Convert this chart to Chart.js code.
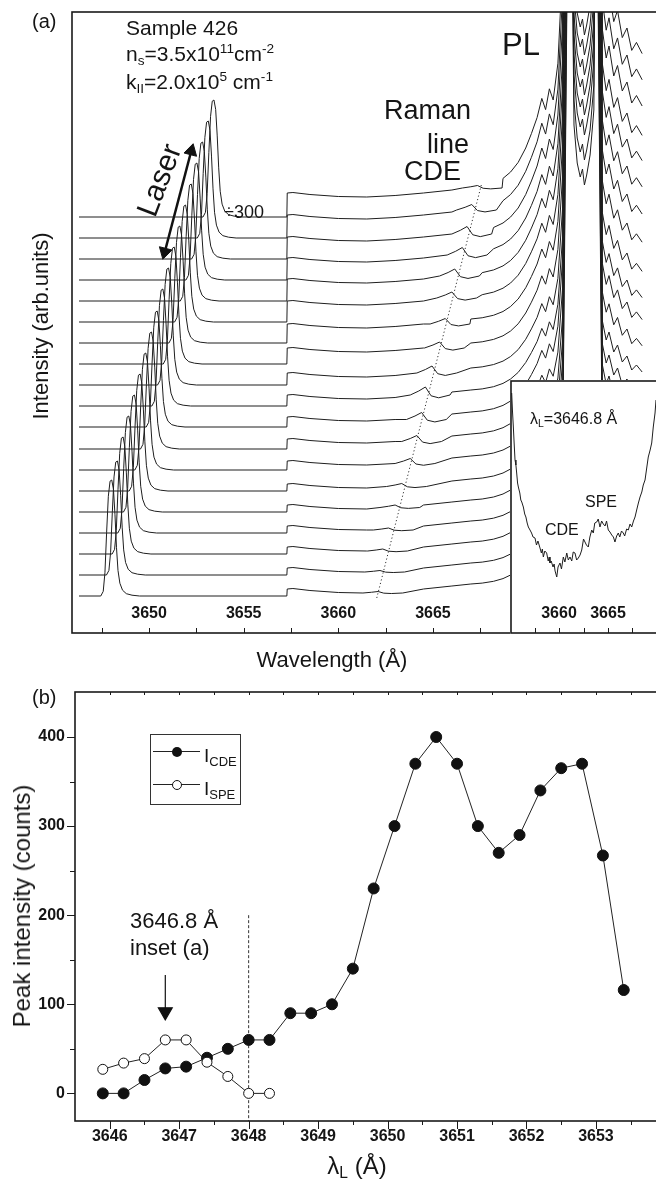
<!DOCTYPE html>
<html>
<head>
<meta charset="utf-8">
<script src="https://cdn.jsdelivr.net/npm/chart.js@4.4.1/dist/chart.umd.min.js"></script>
<style>
  html, body { margin: 0; padding: 0; background: #fff; overflow: hidden; width: 656px; height: 1180px; }
  body { position: relative; font-family: "Liberation Sans", Arial, Helvetica, sans-serif; color: #151515; }
  canvas { position: absolute; }
  #mainChart { left: 0; top: 0; }
  #insetChart { left: 510px; top: 380px; background: #fff; }
  #peakChart { left: 0; top: 670px; }
  .t { position: absolute; white-space: nowrap; line-height: 1; }
  .c { transform: translate(-50%, -50%); }
  .v { transform: translate(-50%, -50%) rotate(-90deg); }
  sub { font-size: 0.65em; vertical-align: -0.28em; line-height: 0; }
  sup { font-size: 0.65em; vertical-align: 0.6em; line-height: 0; }
  .leg { position: absolute; left: 150px; top: 734px; width: 89px; height: 69px; border: 1px solid #333; }
  .seg { position: absolute; height: 0; border-top: 1px solid #222; }
  .dot { position: absolute; width: 10px; height: 10px; border-radius: 50%; box-sizing: border-box; }
</style>
</head>
<body>
<canvas id="mainChart" width="700" height="680"></canvas>
<canvas id="insetChart" width="172" height="254"></canvas>
<canvas id="peakChart" width="700" height="510"></canvas>

<!-- panel (a) texts -->
<div class="t" style="left:32px;top:11px;font-size:20px">(a)</div>
<div class="t" style="left:126px;top:17px;font-size:21px">Sample 426</div>
<div class="t" style="left:126px;top:43px;font-size:21px">n<sub>s</sub>=3.5x10<sup>11</sup>cm<sup>-2</sup></div>
<div class="t" style="left:126px;top:71px;font-size:21px">k<sub>II</sub>=2.0x10<sup>5</sup> cm<sup>-1</sup></div>
<div class="t" style="left:159px;top:180px;font-size:30px;transform:translate(-50%,-50%) rotate(-69deg)">Laser</div>
<div class="t" style="left:224px;top:203px;font-size:18px">÷300</div>
<div class="t" style="left:384px;top:97px;font-size:27px">Raman</div>
<div class="t" style="left:427px;top:131px;font-size:27px">line</div>
<div class="t" style="left:404px;top:158px;font-size:27px">CDE</div>
<div class="t" style="left:502px;top:29px;font-size:31px">PL</div>
<div class="t v" style="left:41px;top:326px;font-size:22px">Intensity (arb.units)</div>
<div class="t c" style="left:332px;top:660px;font-size:22px">Wavelength (Å)</div>
<div class="t" style="left:530px;top:411px;font-size:16px">λ<sub>L</sub>=3646.8 Å</div>
<div class="t" style="left:585px;top:494px;font-size:16px">SPE</div>
<div class="t" style="left:545px;top:522px;font-size:16px">CDE</div>

<!-- panel (b) texts -->
<div class="t" style="left:32px;top:687px;font-size:20px">(b)</div>
<div class="t v" style="left:22px;top:906px;font-size:24px">Peak intensity (counts)</div>
<div class="t c" style="left:357px;top:1166px;font-size:24px">λ<sub>L</sub> (Å)</div>
<div class="t" style="left:130px;top:910px;font-size:22px">3646.8 Å</div>
<div class="t" style="left:130px;top:937px;font-size:22px">inset (a)</div>
<div class="leg">
  <div class="seg" style="left:2px;top:16px;width:47px"></div>
  <div class="dot" style="left:21px;top:12px;background:#111"></div>
  <div class="t" style="left:53px;top:11px;font-size:19px">I<sub style="font-size:13px">CDE</sub></div>
  <div class="seg" style="left:2px;top:49px;width:47px"></div>
  <div class="dot" style="left:21px;top:45px;background:#fff;border:1px solid #111"></div>
  <div class="t" style="left:53px;top:44px;font-size:19px">I<sub style="font-size:13px">SPE</sub></div>
</div>

<script>
const FONT = '"Liberation Sans", Arial, Helvetica, sans-serif';

// ---------- panel (a): spectra, lowest trace first ----------
const laserLambda = [3648.0, 3648.3, 3648.6, 3648.9, 3649.2, 3649.5, 3649.8, 3650.1, 3650.4, 3650.7,
                     3651.0, 3651.3, 3651.6, 3651.9, 3652.2, 3652.5, 3652.8, 3653.1, 3653.4];
const traceOffset = [37, 58, 79, 100, 121, 142, 163, 184, 206, 227, 248, 269, 290, 311, 332, 353, 374, 395, 416];
const laserHeight = [116, 114, 117, 117, 117, 117, 117, 117, 116, 117, 117, 117, 117, 117, 117, 117, 117, 117, 117];
const stepHeight  = [7, 7, 7, 7, 7, 7, 9, 10, 10, 11, 12, 16, 19, 21, 22, 22, 22, 23, 24];
const ramanLambda = [3662.1, 3662.2, 3662.35, 3662.65, 3663.0, 3663.35, 3663.8, 3664.15, 3664.4, 3664.6,
                     3664.95, 3665.35, 3665.65, 3666.0, 3666.15, 3666.55, 3666.8, 3667.05, 3667.35];
const ramanHeight = [1.5, 1.5, 2, 2, 2.5, 3, 5, 6, 7, 8, 7, 6, 5.5, 6, 7, 7.5, 7.5, 5.5, 2.5];
const plScale     = [0.9, 0.9, 0.95, 0.95, 1, 1, 1, 1.05, 1.1, 1.1, 1.15, 1.2, 1.25, 1.3, 1.35, 1.4, 1.5, 1.55, 1.6];
const gapDip      = [null, null, null, null, null, null, null, null, null, null, null,
                     163, 164, 166, 164, 163, 162, 160, 158];

// line shapes shared by all spectra
const traceStart = 3646.3;
const laserDx  = [-0.55, -0.42, -0.33, -0.24, -0.15, -0.06, 0.03, 0.12, 0.2, 0.28, 0.36, 0.46, 0.6, 0.8, 1.1, 1.5];
const laserRel = [0, 0.04, 0.2, 0.55, 0.86, 0.99, 1, 0.92, 0.7, 0.42, 0.22, 0.11, 0.05, 0.02, 0.007, 0];
const stepLambda = 3657.3;
const bgLambda = [3657.3, 3657.6, 3658.5, 3660, 3661.5, 3663, 3664.5, 3666, 3667];
const bgLevel  = [0, 0.5, -1.5, -3.5, -4, -2.5, 0, 3, 5];
const plLambda = [3667.6, 3668.2, 3668.7, 3669.1, 3669.5, 3669.9, 3670.2, 3670.5, 3670.75, 3670.95, 3671.15,
                  3671.35, 3671.6, 3671.85, 3672.1, 3673.7, 3673.95, 3674.15, 3674.3, 3674.55, 3674.75,
                  3675.0, 3675.25, 3675.5, 3675.75, 3676.05];
const plLevel  = [1, 3, 6, 10, 16, 25, 34, 44, 56, 49, 62, 55, 78, 140, 700, 700, 135, 116, 124, 104, 111,
                  94, 100, 86, 91, 84];
const ramanDx  = [-0.8, -0.35, 0, 0.3, 0.7, 1.3];
const ramanRel = [0, 0.5, 1, -0.1, -0.35, 0];
const dipLambda = 3673.0;
const dipDx  = [-0.55, -0.38, -0.22, -0.1, 0, 0.12, 0.3, 0.5];
const dipRel = [60, 22, 8, 16, 0, 10, 30, 75];

const guideLambda = [3662.03, 3667.58];
const guideLevel  = [35, 450];
const laserArrowLambda = [3650.83, 3652.23];
const laserArrowLevel  = [381, 482];

const mainTicks  = [3650, 3655, 3660, 3665, 3670, 3675];
const mainMinor  = [3647.5, 3652.5, 3657.5, 3662.5, 3667.5, 3672.5, 3677.5];

// inset: spectrum at 3646.8 A
const insetLambda = [3655.17, 3655.25, 3655.34, 3655.42, 3655.51, 3655.6, 3655.68, 3655.77, 3655.85, 3656.0,
  3656.1, 3656.2, 3656.36, 3656.5, 3656.62, 3656.75, 3656.87, 3657.04, 3657.2, 3657.35, 3657.55, 3657.7,
  3657.85, 3658.06, 3658.2, 3658.3, 3658.4, 3658.55, 3658.74, 3658.9, 3659.0, 3659.08, 3659.2, 3659.39,
  3659.5, 3659.6, 3659.77, 3659.9, 3660.1, 3660.25, 3660.44, 3660.6, 3660.79, 3660.95, 3661.12, 3661.3,
  3661.45, 3661.63, 3661.8, 3661.97, 3662.15, 3662.32, 3662.5, 3662.65, 3662.8, 3662.99, 3663.15, 3663.34,
  3663.5, 3663.65, 3663.85, 3664.0, 3664.18, 3664.35, 3664.52, 3664.7, 3664.85, 3665.03, 3665.2, 3665.38,
  3665.55, 3665.71, 3665.88, 3666.05, 3666.2, 3666.38, 3666.56, 3666.7, 3666.9, 3667.07, 3667.25, 3667.42,
  3667.6, 3667.76, 3667.95, 3668.1, 3668.27, 3668.45, 3668.6, 3668.78, 3668.95, 3669.11, 3669.3, 3669.46,
  3669.62, 3669.8, 3669.9, 3670.0];
const insetLevel = [240, 222, 206, 190, 173, 168, 160, 150, 146, 140,
  133, 131, 126, 119, 116, 110, 106, 103, 100, 96, 95, 88,
  92, 85, 80, 84, 76, 82, 80, 72, 76, 70, 72, 66,
  69, 62, 56, 66, 70, 64, 76, 71, 80, 73, 76, 72,
  81, 80, 73, 75, 78, 83, 94, 91, 88, 86, 96, 103,
  100, 110, 111, 114, 106, 112, 109, 107, 112, 103, 101, 98,
  96, 91, 97, 100, 96, 102, 100, 97, 104, 103, 109, 106,
  112, 116, 124, 130, 136, 141, 148, 153, 165, 176, 183, 190,
  206, 220, 233, 245];
const insetTicks = [3660, 3665];
const insetMinor = [3657.5, 3662.5, 3667.5];

// ---------- panel (b) ----------
const lambdaL = [3645.9, 3646.2, 3646.5, 3646.8, 3647.1, 3647.4, 3647.7, 3648.0, 3648.3, 3648.6, 3648.9,
                 3649.2, 3649.5, 3649.8, 3650.1, 3650.4, 3650.7, 3651.0, 3651.3, 3651.6, 3651.9, 3652.2,
                 3652.5, 3652.8, 3653.1, 3653.4];
const cdeCounts = [0, 0, 15, 28, 30, 40, 50, 60, 60, 90, 90, 100, 140, 230, 300, 370, 400, 370, 300, 270,
                   290, 340, 365, 370, 267, 116];
const speLambda = [3645.9, 3646.2, 3646.5, 3646.8, 3647.1, 3647.4, 3647.7, 3648.0, 3648.3];
const speCounts = [27, 34, 39, 60, 60, 35, 19, 0, 0];
const markLambda = [3648.0, 3648.0];
const markLevel  = [200, -31];
const arrowLambda = [3646.8, 3646.8];
const arrowLevel  = [133, 91.5];
const peakXTicks = [3646, 3647, 3648, 3649, 3650, 3651, 3652, 3653];
const peakXMinor = [3646.5, 3647.5, 3648.5, 3649.5, 3650.5, 3651.5, 3652.5, 3653.5];
const peakYTicks = [0, 100, 200, 300, 400];
const peakYMinor = [50, 150, 250, 350];

// ---------- helpers ----------
function buildTrace(i) {
  const base = traceOffset[i];
  const top = base + stepHeight[i];
  const left = [{ x: traceStart, y: base }];
  laserDx.forEach((d, k) => left.push({ x: laserLambda[i] + d, y: base + laserHeight[i] * laserRel[k] }));
  left.push({ x: stepLambda - 0.02, y: base });

  const bgEnd = bgLevel[bgLevel.length - 1];
  let right = bgLambda.map((l, k) => ({ x: l, y: top + bgLevel[k] }));
  plLambda.forEach((l, k) => right.push({ x: l, y: top + bgEnd + plScale[i] * plLevel[k] }));

  // Raman bump sits on the background just left of it
  const rp = ramanLambda[i];
  let rBase = top;
  bgLambda.forEach((l, k) => { if (l <= rp) rBase = top + bgLevel[k]; });
  const lo = rp + ramanDx[0], hi = rp + ramanDx[ramanDx.length - 1];
  right = right.filter(p => p.x < lo || p.x > hi);
  ramanDx.forEach((d, k) => right.push({ x: rp + d, y: rBase + ramanHeight[i] * ramanRel[k] }));

  if (gapDip[i] !== null) {
    dipDx.forEach((d, k) => right.push({ x: dipLambda + d, y: top + gapDip[i] + dipRel[k] }));
  }
  right.sort((a, b) => a.x - b.x);
  return left.concat(right);
}

const pairs = (xs, ys) => xs.map((x, i) => ({ x: x, y: ys[i] }));

const frame = {
  id: 'frame',
  afterDraw(chart, args, opts) {
    const { ctx, chartArea: a } = chart;
    ctx.save();
    ctx.strokeStyle = '#1a1a1a';
    ctx.lineWidth = opts.width || 1.5;
    ctx.strokeRect(a.left, a.top, a.right - a.left, a.bottom - a.top);
    ctx.lineWidth = 1;
    (opts.marks || []).forEach(m => {
      const sc = chart.scales[m.axis];
      m.values.forEach(v => {
        const p = Math.round(sc.getPixelForValue(v)) + 0.5;
        ctx.beginPath();
        if (m.axis === 'x') {
          const y0 = m.side === 'top' ? a.top : a.bottom;
          ctx.moveTo(p, y0);
          ctx.lineTo(p, y0 + m.len);
        } else {
          ctx.moveTo(a.left, p);
          ctx.lineTo(a.left + m.len, p);
        }
        ctx.stroke();
      });
    });
    ctx.restore();
  }
};

const tickFont = { family: FONT, size: 16, weight: 'bold' };
const baseOptions = {
  responsive: false,
  animation: false,
  events: [],
  plugins: { legend: { display: false }, tooltip: { enabled: false } }
};

// ---------- panel (a) ----------
const traceSets = laserLambda.map((_, i) => ({
  data: buildTrace(i),
  showLine: true,
  borderColor: '#1e1e1e',
  borderWidth: 1,
  pointRadius: 0
}));

new Chart(document.getElementById('mainChart'), {
  type: 'scatter',
  data: {
    datasets: traceSets.concat([
      {
        data: pairs(guideLambda, guideLevel),
        showLine: true, borderColor: '#333', borderWidth: 1, borderDash: [1.2, 2.4], pointRadius: 0
      },
      {
        data: pairs(laserArrowLambda, laserArrowLevel),
        showLine: true, borderColor: '#111', borderWidth: 2.5,
        pointStyle: 'triangle', pointRadius: 7.5, pointRotation: [194.7, 14.7],
        pointBackgroundColor: '#111', pointBorderColor: '#111', pointBorderWidth: 1
      }
    ])
  },
  options: Object.assign({}, baseOptions, {
    layout: { padding: { left: 72, top: 12, right: 20, bottom: 47 } },
    plugins: Object.assign({}, baseOptions.plugins, {
      frame: { width: 1.6, marks: [
        { axis: 'x', side: 'bottom', len: -5, values: mainTicks },
        { axis: 'x', side: 'bottom', len: -5, values: mainMinor }
      ] }
    }),
    scales: {
      x: {
        type: 'linear', min: 3645.93, max: 3678.05,
        afterFit: s => { s.height = 0; },
        afterBuildTicks: s => { s.ticks = mainTicks.map(v => ({ value: v })); },
        grid: { display: false, drawTicks: false },
        border: { display: false },
        // labels sit inside the frame, as in the original
        ticks: { mirror: true, padding: 10, font: tickFont, color: '#151515', autoSkip: false, maxRotation: 0,
                 callback: v => String(v) }
      },
      y: { display: false, min: 0, max: 621 }
    }
  }),
  plugins: [frame]
});

// ---------- inset ----------
new Chart(document.getElementById('insetChart'), {
  type: 'scatter',
  data: {
    datasets: [{
      data: pairs(insetLambda, insetLevel),
      showLine: true, borderColor: '#1e1e1e', borderWidth: 1, pointRadius: 0
    }]
  },
  options: Object.assign({}, baseOptions, {
    layout: { padding: { left: 1, top: 1, right: 1, bottom: 1 } },
    plugins: Object.assign({}, baseOptions.plugins, {
      frame: { width: 1.6, marks: [
        { axis: 'x', side: 'bottom', len: -5, values: insetTicks },
        { axis: 'x', side: 'bottom', len: -5, values: insetMinor }
      ] }
    }),
    scales: {
      x: {
        type: 'linear', min: 3655.1, max: 3672.45,
        afterFit: s => { s.height = 0; },
        afterBuildTicks: s => { s.ticks = insetTicks.map(v => ({ value: v })); },
        grid: { display: false, drawTicks: false },
        border: { display: false },
        ticks: { mirror: true, padding: 10, font: tickFont, color: '#151515', autoSkip: false, maxRotation: 0,
                 callback: v => String(v) }
      },
      y: { display: false, min: 0, max: 252 }
    }
  }),
  plugins: [frame]
});

// ---------- panel (b) ----------
new Chart(document.getElementById('peakChart'), {
  type: 'scatter',
  data: {
    datasets: [
      {
        label: 'I SPE',
        data: pairs(speLambda, speCounts),
        showLine: true, borderColor: '#222', borderWidth: 1,
        pointRadius: 5, pointBackgroundColor: '#fff', pointBorderColor: '#111', pointBorderWidth: 1
      },
      {
        label: 'I CDE',
        data: pairs(lambdaL, cdeCounts),
        showLine: true, borderColor: '#222', borderWidth: 1,
        pointRadius: 5.5, pointBackgroundColor: '#111', pointBorderColor: '#111', pointBorderWidth: 1
      },
      {
        data: pairs(markLambda, markLevel),
        showLine: true, borderColor: '#333', borderWidth: 1, borderDash: [3, 2], pointRadius: 0
      },
      {
        data: pairs(arrowLambda, arrowLevel),
        showLine: true, borderColor: '#111', borderWidth: 1.2,
        pointStyle: 'triangle', pointRadius: [0, 8], pointRotation: 180,
        pointBackgroundColor: '#111', pointBorderColor: '#111'
      }
    ]
  },
  options: Object.assign({}, baseOptions, {
    layout: { padding: { left: 0, top: 22, right: 20, bottom: 0 } },
    plugins: Object.assign({}, baseOptions.plugins, {
      frame: { width: 1.6, marks: [
        { axis: 'x', side: 'bottom', len: 8, values: peakXTicks },
        { axis: 'x', side: 'bottom', len: 4, values: peakXMinor },
        { axis: 'x', side: 'top', len: 3, values: peakXTicks.concat(peakXMinor) },
        { axis: 'y', len: -8, values: peakYTicks },
        { axis: 'y', len: -5, values: peakYMinor }
      ] }
    }),
    scales: {
      x: {
        type: 'linear', min: 3645.5, max: 3654.21,
        afterFit: s => { s.height = 59; },
        afterBuildTicks: s => { s.ticks = peakXTicks.map(v => ({ value: v })); },
        grid: { display: false, drawTicks: false },
        border: { display: false },
        ticks: { padding: 6, font: tickFont, color: '#151515', autoSkip: false, maxRotation: 0,
                 callback: v => String(v) }
      },
      y: {
        type: 'linear', min: -31, max: 450.5,
        afterFit: s => { s.width = 75; },
        afterBuildTicks: s => { s.ticks = peakYTicks.map(v => ({ value: v })); },
        grid: { display: false, drawTicks: false },
        border: { display: false },
        ticks: { padding: 10, font: tickFont, color: '#151515', autoSkip: false,
                 callback: v => String(v) }
      }
    }
  }),
  plugins: [frame]
});
</script>
</body>
</html>
